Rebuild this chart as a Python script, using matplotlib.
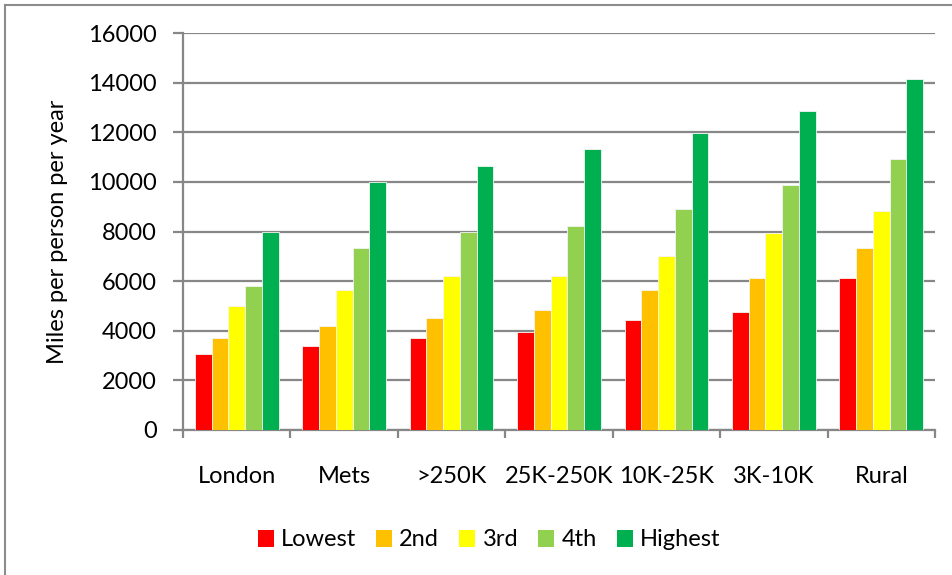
import matplotlib
matplotlib.use("Agg")
import matplotlib.pyplot as plt
import numpy as np
from matplotlib.patches import Patch
from matplotlib.lines import Line2D

categories = ["London", "Mets", ">250K", "25K-250K", "10K-25K", "3K-10K", "Rural"]
series_names = ["Lowest", "2nd", "3rd", "4th", "Highest"]
lowest = [3070, 3400, 3720, 3960, 4440, 4770, 6140]
second = [3720, 4200, 4530, 4850, 5660, 6140, 7350]
third = [5010, 5660, 6220, 6220, 7030, 7920, 8810]
fourth = [5820, 7350, 7990, 8240, 8890, 9860, 10910]
highest = [8000, 10010, 10650, 11310, 11960, 12850, 14140]
colors = ["#FF0000", "#FFC000", "#FFFF00", "#92D050", "#00B050"]
yticks = [0, 2000, 4000, 6000, 8000, 10000, 12000, 14000, 16000]

plt.rcParams['font.family'] = ['Lato', 'DejaVu Sans']

fig = plt.figure(figsize=(9.52, 5.75), dpi=100)
ax = fig.add_axes([183/952, 1-430/575, (935-183)/952, (430-33)/575])

data = [lowest, second, third, fourth, highest]
x = np.arange(len(categories))
bw = 0.156
for i, (vals, c) in enumerate(zip(data, colors)):
    ax.bar(x + (i - 2) * bw, vals, width=bw, color=c, edgecolor="#f4f4f4",
           linewidth=0.6, zorder=3, label=series_names[i])

ax.set_xlim(-0.5, len(categories) - 0.5)
ax.set_ylim(0, 16000)
ax.set_yticks(yticks)
ax.set_yticklabels([str(v) for v in yticks], fontsize=17)
ax.yaxis.grid(True, color="#878787", linewidth=1.6, zorder=0)
ax.set_axisbelow(True)

ax.set_xticks(np.arange(-0.5, len(categories)), minor=False)
ax.set_xticklabels([])
ax.set_xticks(x, minor=True)
ax.set_xticklabels(categories, minor=True, fontsize=17)
ax.tick_params(axis='x', which='minor', length=0, pad=26)
ax.tick_params(axis='x', which='major', length=6, width=1.6, color="#878787", direction='out')
ax.tick_params(axis='y', length=7, width=1.6, color="#878787", direction='out', pad=12)

for s in ["top", "right"]:
    ax.spines[s].set_visible(False)
for s in ["left", "bottom"]:
    ax.spines[s].set_color("#878787")
    ax.spines[s].set_linewidth(1.6)

ax.set_ylabel("Miles per person per year", fontsize=17)
ax.yaxis.set_label_coords(-(183-68)/752, 0.5)

handles = [Patch(facecolor=c, edgecolor='none') for c in colors]
fig.legend(handles, series_names, loc='center', bbox_to_anchor=(489/952, 1-540/575),
           ncol=5, frameon=False, fontsize=17, handlelength=0.68, handleheight=0.7,
           handletextpad=0.3, columnspacing=0.85)

# outer chart border (top and left visible)
fig.add_artist(Line2D([5/952, 5/952], [0, 1-5/575], transform=fig.transFigure,
                      color="#8c8c8c", linewidth=1.5))
fig.add_artist(Line2D([5/952, 1], [1-5/575, 1-5/575], transform=fig.transFigure,
                      color="#8c8c8c", linewidth=1.5))

fig.savefig("out.png", dpi=100)
